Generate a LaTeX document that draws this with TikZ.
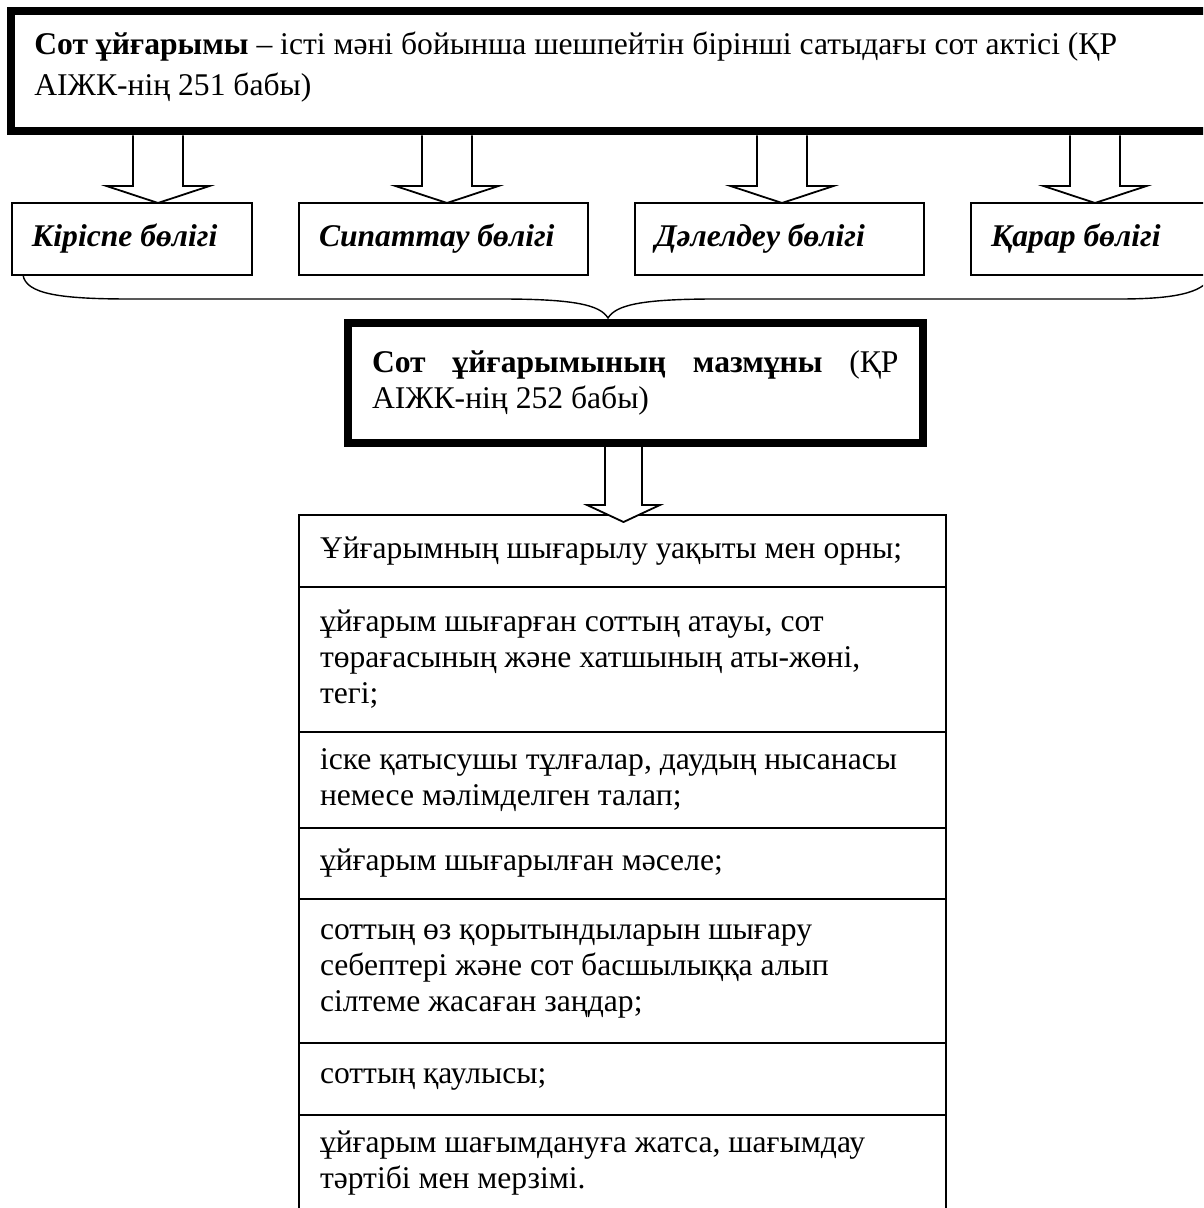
\documentclass[tikz,border=0pt]{standalone}
\usepackage{fontspec}
\setmainfont{Liberation Serif}
\usetikzlibrary{positioning, calc}

% hollow block arrow: from, to, half shaft width, half head width
\newcommand{\hollowarrow}[4]{%
  \path[arrline] ($(#1)+(-#3,0)$) -- ($(#2)+(-#3,-17)$) -- ($(#2)+(-#4,-17)$) -- (#2)
    -- ($(#2)+(#4,-17)$) -- ($(#2)+(#3,-17)$) -- ($(#1)+(#3,0)$);
}

\begin{document}
\begin{tikzpicture}[
    x=0.5pt, y=-0.5pt,
    font=\fontsize{15.8}{18}\selectfont,
    tbox/.style={rectangle, draw, line width=4pt, inner xsep=12.25pt, inner ysep=0pt, minimum height=60pt, align=flush left},
    pbox/.style={rectangle, draw, line width=1pt, inner xsep=10pt, inner ysep=0pt, minimum height=36pt, align=flush left, font=\fontsize{15.8}{18}\selectfont\bfseries\itshape},
    lrow/.style={rectangle, draw, line width=1pt, outer sep=0pt, inner xsep=10.5pt, inner ysep=0pt, text width=302.5pt, align=flush left},
    arrline/.style={draw, fill=white, line width=0.9pt, line join=miter},
    brace/.style={draw, line width=0.7pt},
    node distance=0pt,
  ]
  \useasboundingbox (0,0) rectangle (1203,1208);
  \clip (0,0) rectangle (1203,1208);

  \node[tbox, minimum width=602pt] (top) at (613,71.5) {};
  \node[anchor=base west, inner sep=0pt, text width=570pt, align=flush left,
        font=\fontsize{15.8}{20.5}\selectfont] (toptxt) at (34,55)
    {\textbf{Сот ұйғарымы} – істі мәні бойынша шешпейтін бірінші сатыдағы сот актісі (ҚР\\АІЖК-нің 251 бабы)};

  \node[pbox, text width=100pt]   (kir) at (132,239)   {Кіріспе бөлігі};
  \node[pbox, text width=124.5pt] (sip) at (443.5,239) {Сипаттау бөлігі};
  \node[pbox, text width=124.5pt] (dal) at (779.5,239) {Дәлелдеу бөлігі};
  \node[pbox, text width=100pt]   (qar) at (1091,239)  {Қарар бөлігі};

  \node[tbox, text width=263.25pt] (cnt) at (635.25,383)
    {\textbf{Сот}\hfill\textbf{ұйғарымының}\hfill\textbf{мазмұны}\hfill(ҚР\\АІЖК-нің 252 бабы)};

  \node[lrow, minimum height=36pt, anchor=north] (r1) at (622.5,515) {Ұйғарымның шығарылу уақыты мен орны;};
  \node[lrow, minimum height=72.5pt, below=of r1] (r2) {ұйғарым шығарған соттың атауы, сот\\төрағасының және хатшының аты-жөні,\\тегі;};
  \node[lrow, minimum height=48pt, below=of r2] (r3) {іске қатысушы тұлғалар, даудың нысанасы\\немесе мәлімделген талап;};
  \node[lrow, minimum height=35.5pt, below=of r3] (r4) {ұйғарым шығарылған мәселе;};
  \node[lrow, minimum height=72pt, below=of r4] (r5) {соттың өз қорытындыларын шығару\\себептері және сот басшылыққа алып\\сілтеме жасаған заңдар;};
  \node[lrow, minimum height=36pt, below=of r5] (r6) {соттың қаулысы;};
  \node[lrow, minimum height=48pt, below=of r6] (r7) {ұйғарым шағымдануға жатса, шағымдау\\тәртібі мен мерзімі.};

  % arrow tips
  \coordinate (t1) at (158,203);
  \coordinate (t2) at (447,203);
  \coordinate (t3) at (782,203);
  \coordinate (t4) at (1095,203);
  \coordinate (t5) at (623.5,522);
  \hollowarrow{top.south -| t1}{t1}{25}{51.5}
  \hollowarrow{top.south -| t2}{t2}{25}{51.5}
  \hollowarrow{top.south -| t3}{t3}{25}{51.5}
  \hollowarrow{top.south -| t4}{t4}{25}{51.5}
  \hollowarrow{cnt.south -| t5}{t5}{18.5}{36.5}

  % brace
  \coordinate (bl) at (23,275);
  \coordinate (bt) at (608,318);
  \coordinate (br) at (1212,275);
  \draw[brace] (bl) .. controls (26,294) and (60,299) .. (130,299) -- (500,299)
    .. controls (575,299) and (600,305) .. (bt)
    .. controls (616,305) and (641,299) .. (716,299) -- (1120,299)
    .. controls (1185,299) and (1205,290) .. (br);
\end{tikzpicture}
\end{document}
